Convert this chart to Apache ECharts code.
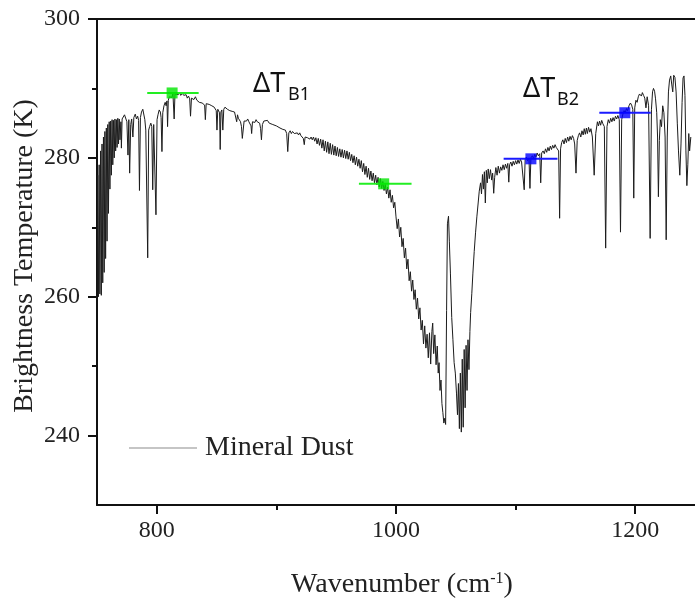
<!DOCTYPE html>
<html><head><meta charset="utf-8">
<script src="https://cdn.jsdelivr.net/npm/echarts@6/dist/echarts.min.js"></script>
<style>html,body{margin:0;padding:0;background:#fff}#c{width:695px;height:602px}</style>
</head><body><div id="c"></div>
<script>
// Mineral dust brightness-temperature spectrum [wavenumber cm-1, K]
const dustSpectrum = [
[750.0,259.5],[750.6,277.5],[751.2,260.0],[751.8,279.0],[752.4,260.4],[753.0,281.0],[753.6,260.2],[754.2,282.0],[754.8,262.0],[755.4,283.0],[756.0,263.5],[756.6,283.8],[757.2,265.5],[757.8,284.3],[758.4,268.0],[759.0,284.8],[759.6,272.0],[760.2,285.2],[760.8,275.5],[761.4,285.3],[762.0,277.5],[762.6,285.5],[763.2,279.0],[763.8,285.4],[764.4,280.0],[765.0,285.6],[765.6,281.0],[766.2,285.5],[766.8,281.5],[767.4,285.7],[768.0,282.0],[768.6,285.6],[769.2,282.6],[770.0,285.2],[770.4,281.4],[771.0,285.6],[772.0,285.8],
[773,286.2],[774,286.0],[775,285.2],[775.9,280.4],[776.6,285.5],[777.3,277.8],[778.2,284.8],[779,285.6],[780,283.0],[780.8,285.8],[782,286.3],[783,285.6],[784,286.0],[784.8,285.4],[785.5,275.3],[786.3,285.8],[787.2,286.6],[788.3,287.0],[789.2,286.8],[790,285.5],[790.8,284.0],[791.6,283.8],[792.4,265.6],[793.2,284.0],[794,284.5],[795,285.0],[795.8,284.5],[796.6,275.4],[797.4,284.8],[798.4,284.6],[799.3,271.8],[800.2,285.5],[801,286.2],[802,286.9],[803,286.6],[803.6,285.8],[804.3,280.9],[805,286.5],[806,287.5],[807,288.0],[807.8,287.5],[808.5,288.2],[809,284.5],[809.6,288.3],[810.5,288.8],[811.5,289.0],[812.5,288.7],[813.5,289.2],[814.5,285.6],[815.2,289.2],[816.5,289.3],[818,289.1],[819,289.4],[820,289.0],[821.3,289.3],[822.5,289.0],[823.5,288.8],[824.5,289.1],[825.5,288.6],[826.5,288.9],[827.5,288.5],[828.2,286.0],[829,288.6],[830,288.7],[831,288.4],[832.3,288.8],[833.5,288.3],[834.5,288.5],[835.5,288.0],[836.5,288.2],[837.9,287.9],
[839,287.9],[840,287.6],[840.6,285.5],[841.3,287.8],[842.5,288.0],[843.8,287.7],[844.8,287.9],[846,287.5],[847,287.7],[848,287.3],[849,287.5],[849.7,286.8],[850.3,284.0],[851,287.0],[852,287.2],[852.5,286.5],[853,281.2],[853.6,286.6],[854.4,286.9],[855.2,284.0],[856,287.0],[857,287.3],[858,287.2],[859,287.0],[860,287.1],[861,286.8],[862,287.0],[863,286.7],[864,286.9],[865,286.6],[866,286.4],[866.8,285.2],[867.5,286.2],[868.2,285.7],[869,285.5],[870,285.2],[870.8,284.5],[871.5,282.8],[872.3,282.7],[873,285.3],[874,285.5],
[875,285.3],[876,285.6],[877,285.2],[878,285.4],[878.8,284.6],[879.3,283.5],[880,285.2],[881,285.4],[882,285.1],[883,285.5],[884,285.2],[885,285.3],[886,285.0],[886.8,284.2],[887.5,282.6],[888.3,284.8],[889.5,285.3],[891,285.2],[892.5,285.4],[894,285.0],[895.5,285.1],[897,284.8],[898.5,285.0],[900,284.6],[901.5,284.7],[903,284.3],[904.5,284.4],[905.4,284.1],[906.5,284.3],[907.5,284.0],[908.6,283.5],[909.5,280.9],[910.4,283.6],[911.5,283.9],[912.5,283.5],[913.5,283.8],[915,283.5],[916.4,283.3],[917.5,283.6],[918.5,283.3],[919.5,283.6],[920.5,283.2],[921.5,283.4],[922.5,282.8],[923.3,281.9],[924,283.0],[925,283.2],[926,282.9],[927,283.1],[928,282.7],[929,283.0],[930,282.6],[931,283.0],[932,282.4],[933,282.9],[934,282.0],[935,282.8],[936,281.8],[937,282.7],[938,281.4],[939,282.6],[940,281.0],[941,282.4],[942,280.8],[943,282.3],[944,280.6],[945,282.1],[946,280.5],[947,281.9],[948,280.4],[949,281.7],[950,280.3],[951,281.5],[952,280.2],[953,281.3],[954,280.1],[955,281.2],[956,280.0],[957,281.1],[958,279.9],[959,281.0],[960,279.8],[961,280.8],[962,279.6],[963,280.5],[964,279.3],[965,280.3],[966,279.0],[967,280.1],[968,278.8],[969,279.8],[970,278.5],[971,279.6],[972,278.0],[973,279.2],[974,277.6],[975,278.8],[976,277.2],[977,278.5],[978,276.9],[979,278.1],[980,276.7],[981,277.8],[982,276.4],[983,277.5],[984,276.1],[985,277.2],[986,275.8],[987,277.0],[988,275.6],[989,276.6],[990,275.3],[991,276.2],[992,274.8],[993,275.8],[994,274.2],[995,275.4],[996,273.6],[997,274.6],[998,272.8],[999,273.6],[1000,271.5],
[1001,269.8],[1002,271.2],[1003,268.6],[1004,270.0],[1005,267.2],[1006,268.4],[1007,265.6],[1008,267.0],[1009,264.0],[1010,265.4],[1011,262.3],[1012,263.6],[1013,260.8],[1014,262.4],[1015,259.6],[1016,261.0],[1017,258.2],[1018,259.8],[1019,256.8],[1020,258.4],[1021,255.2],[1022,256.6],[1023,253.2],[1024,255.8],[1025,252.6],[1026,254.6],[1027,251.2],[1028,254.8],[1029,250.3],[1030,255.0],[1030.7,256.2],[1031.5,251.8],[1032.5,254.5],[1033.5,250.2],[1034.5,252.9],[1035.3,249.0],[1036,250.5],[1036.8,246.5],[1037.6,248.0],[1038.4,244.6],[1039.2,243.3],[1040,241.8],[1040.8,242.5],[1041.5,241.6],[1042.3,258.0],[1043,270.5],[1043.9,271.6],[1044.6,268.0],[1045.5,263.4],[1046.6,257.0],[1047.6,253.8],[1048.6,250.5],[1049.6,249.0],[1050.6,246.0],[1051.4,243.0],[1052.2,247.5],[1053,241.0],[1053.8,249.0],[1054.6,240.5],[1055.4,251.0],[1056.2,241.2],[1057,252.4],[1057.8,244.0],[1058.6,253.0],[1059.4,246.5],[1060.2,253.8],[1061,249.5],[1061.8,255.0],[1062.4,257.7],[1063.4,260.5],[1064.3,263.4],[1065.4,266.5],[1066.5,269.2],[1067.6,271.5],[1068.7,273.5],[1069.6,275.2],[1070.7,276.4],[1071.5,274.8],[1072.3,277.6],[1073.1,275.5],[1073.9,278.0],[1074.7,273.5],[1075.5,278.2],[1076.3,276.4],[1077.1,278.4],[1078,277.0],[1079,278.3],[1080,276.8],[1080.8,277.8],[1081.7,274.9],[1082.5,277.2],[1083.5,278.6],[1084.5,277.5],[1085.5,278.8],[1086.5,277.8],[1087.5,278.7],
[1088.5,278.2],[1089.5,279.0],[1090.5,278.3],[1091.5,279.1],[1092.5,278.5],[1093.5,279.2],[1094.3,276.5],[1095,279.0],[1096,279.4],[1097,278.8],[1098,279.5],[1099,279.0],[1100,279.6],[1101,279.1],[1102,279.7],[1103,279.2],[1104,279.8],[1105,279.4],[1106.3,279.6],[1107.2,275.4],[1108,279.8],[1109,280.1],[1110,279.6],[1111.2,279.9],[1112,275.6],[1112.8,280.0],[1114,280.3],[1115,279.9],[1116,280.5],[1117,280.1],[1118,280.7],[1119,280.3],[1120.2,280.6],[1121,276.4],[1121.8,280.7],[1123,281.0],[1124,280.6],[1125,281.3],[1126,280.8],[1127,281.5],[1128,281.0],[1129,281.7],[1130,281.2],[1131,281.8],[1132,281.4],[1133,281.9],[1134,281.5],[1135,281.7],[1136,281.0],[1136.8,271.3],[1137.6,281.3],[1138.5,282.2],[1139.5,282.6],[1140.5,282.0],[1141.5,282.8],[1142.5,282.2],[1143.5,283.0],[1144.5,282.4],[1145.5,283.1],[1146.5,282.6],[1147.5,283.2],[1148.5,282.8],[1149.4,282.0],[1150.5,277.8],[1151.5,282.5],[1152.5,283.2],[1153.5,283.6],[1154.5,283.0],[1155.5,283.9],[1156.5,283.3],[1157.4,284.2],[1158.3,283.4],[1159.2,284.3],[1160,283.5],[1161,284.4],[1162,283.7],[1163,284.2],[1164.2,283.0],[1165.7,277.5],[1167,283.5],[1168.4,285.2],[1169.3,284.6],[1170.2,285.3],[1171.1,284.7],[1172,285.4],[1173,284.9],[1174.2,284.5],[1175.3,267.0],[1176.4,284.5],[1177.5,285.5],[1178.5,285.0],[1179.5,285.7],[1180.5,285.2],[1181.5,285.8],[1182.5,285.3],[1183.5,286.0],[1184.5,285.6],[1185.5,286.1],[1186.7,285.5],[1187.7,269.3],[1188.7,285.5],[1189.7,286.3],[1190.7,286.8],[1191.7,286.5],[1192.7,287.1],[1193.7,286.8],[1194.8,287.5],[1196,287.9],[1197,287.6],[1198,287.0],[1198.8,274.2],[1199.6,287.2],[1200.6,288.3],[1201.6,288.0],[1202.6,288.8],[1203.6,289.2],[1204.3,289.3],[1205.2,288.9],[1206,289.4],[1207,289.0],[1208,288.6],[1209,287.2],[1210,288.8],[1211.2,287.5],[1212.5,268.4],[1213.6,287.0],[1214.5,289.5],[1215.3,290.0],[1216.2,289.6],[1217,288.5],[1218,286.5],[1218.7,283.0],[1219.4,274.4],[1220.2,282.5],[1221,285.5],[1222,284.5],[1223,287.5],[1224,286.5],[1225,283.0],[1225.9,268.2],[1226.8,283.0],[1227.8,289.5],[1228.7,291.2],[1229.7,291.8],[1230.6,290.5],[1231.4,289.5],[1232.2,291.9],[1233.2,291.6],[1234.2,289.5],[1235.2,285.0],[1236.2,281.0],[1237.3,277.5],[1238.3,282.0],[1239.2,288.0],[1240,291.5],[1240.8,291.8],[1241.6,289.0],[1242.4,281.0],[1243.2,276.0],[1244,279.0],[1244.8,283.5],[1245.5,281.0],[1246.5,283.0]
];
const xTickLabels = [800, 1000, 1200];
const xMinorTicks = [900, 1100];
const yTickLabels = [240, 260, 280, 300];
const yMinorTicks = [250, 270, 290];
const b1Wavenumbers = [812.8, 989.7];
const b1Temps = [289.35, 276.26];
const b1Bands = [[792, 835], [969, 1013]];
const b2Wavenumbers = [1112.8, 1191.3];
const b2Temps = [279.86, 286.5];
const b2Bands = [[1090, 1135], [1170, 1213]];

const serif = 'Liberation Serif';
const axisCol = '#111';
const chart = echarts.init(document.getElementById('c'), null, {renderer: 'canvas'});

function bandSeries(bands, temps, color) {
  return bands.map((b, i) => ({
    type: 'line', data: [[b[0], temps[i]], [b[1], temps[i]]], symbol: 'none',
    lineStyle: {color: color, width: 2}, z: 4, silent: true
  }));
}

const series = [
  {type: 'line', name: 'Mineral Dust', data: dustSpectrum, symbol: 'none', showSymbol: false,
   lineStyle: {color: '#1c1c1c', width: 1}, itemStyle: {color: '#8c8c8c'}, z: 2, sampling: null}
].concat(bandSeries(b1Bands, b1Temps, '#22ee22'))
 .concat(bandSeries(b2Bands, b2Temps, '#1a1aff'))
 .concat([
  {type: 'scatter', data: b1Wavenumbers.map((w, i) => [w, b1Temps[i]]), symbol: 'rect', symbolSize: 11,
   itemStyle: {color: '#00e600'}, z: 5},
  {type: 'scatter', data: b2Wavenumbers.map((w, i) => [w, b2Temps[i]]), symbol: 'rect', symbolSize: 11,
   itemStyle: {color: '#0000ff'}, z: 5}
 ]);

const plain = v => String(v);

chart.setOption({
  animation: false,
  backgroundColor: '#fff',
  grid: {left: 97, top: 19, width: 605, height: 486, containLabel: false},
  xAxis: [
    {type: 'value', min: 750, max: 1250, position: 'bottom',
     axisLine: {lineStyle: {color: axisCol, width: 2}},
     axisTick: {customValues: xTickLabels, length: 9, lineStyle: {color: axisCol, width: 2}},
     axisLabel: {customValues: xTickLabels, formatter: plain, margin: 14, fontSize: 24, fontFamily: serif, color: '#222'},
     splitLine: {show: false}},
    {type: 'value', min: 750, max: 1250, position: 'bottom',
     axisLine: {show: false},
     axisTick: {customValues: xMinorTicks, length: 5, lineStyle: {color: axisCol, width: 2}},
     axisLabel: {show: false}, splitLine: {show: false}},
    {type: 'value', min: 750, max: 1250, position: 'top',
     axisLine: {lineStyle: {color: axisCol, width: 2}},
     axisTick: {show: false}, axisLabel: {show: false}, splitLine: {show: false}}
  ],
  yAxis: [
    {type: 'value', min: 230, max: 300, position: 'left',
     axisLine: {show: true, lineStyle: {color: axisCol, width: 2}},
     axisTick: {show: true, customValues: yTickLabels, length: 9, lineStyle: {color: axisCol, width: 2}},
     axisLabel: {customValues: yTickLabels, formatter: plain, margin: 17, fontSize: 24, fontFamily: serif, color: '#222'},
     splitLine: {show: false}},
    {type: 'value', min: 230, max: 300, position: 'left',
     axisLine: {show: false},
     axisTick: {show: true, customValues: yMinorTicks, length: 5, lineStyle: {color: axisCol, width: 2}},
     axisLabel: {show: false}, splitLine: {show: false}}
  ],
  legend: {
    data: [{name: 'Mineral Dust', icon: 'rect'}], left: 129, top: 434, padding: 0,
    itemWidth: 68, itemHeight: 1.2, itemGap: 8,
    itemStyle: {color: '#8c8c8c'},
    textStyle: {fontSize: 28, fontFamily: serif, color: '#222', padding: [0, 0, 0, 3]}
  },
  graphic: [
    {type: 'text', x: 25, y: 256, rotation: Math.PI / 2,
     style: {text: 'Brightness Temperature (K)', font: '28px "Liberation Serif"', fill: '#222',
             textAlign: 'center', textVerticalAlign: 'middle'}},
    {type: 'text', x: 402, y: 585,
     style: {text: '{a|Wavenumber (cm}{s|-1}{a|)}', textAlign: 'center', textVerticalAlign: 'middle',
             rich: {a: {fontSize: 28, fontFamily: serif, fill: '#222', color: '#222'},
                    s: {fontSize: 16, fontFamily: serif, fill: '#222', color: '#222', verticalAlign: 'top', padding: [0, 0, 10, 0]}}}},
    {type: 'text', x: 253, y: 84,
     style: {text: 'ΔT', font: '27px "Noto Sans"', fill: '#111', textAlign: 'left', textVerticalAlign: 'middle'}},
    {type: 'text', x: 288, y: 95,
     style: {text: 'B1', font: '18px "Noto Sans"', fill: '#111', textAlign: 'left', textVerticalAlign: 'middle'}},
    {type: 'text', x: 523, y: 89,
     style: {text: 'ΔT', font: '27px "Noto Sans"', fill: '#111', textAlign: 'left', textVerticalAlign: 'middle'}},
    {type: 'text', x: 557, y: 100,
     style: {text: 'B2', font: '18px "Noto Sans"', fill: '#111', textAlign: 'left', textVerticalAlign: 'middle'}}
  ],
  series: series
});
</script></body></html>
